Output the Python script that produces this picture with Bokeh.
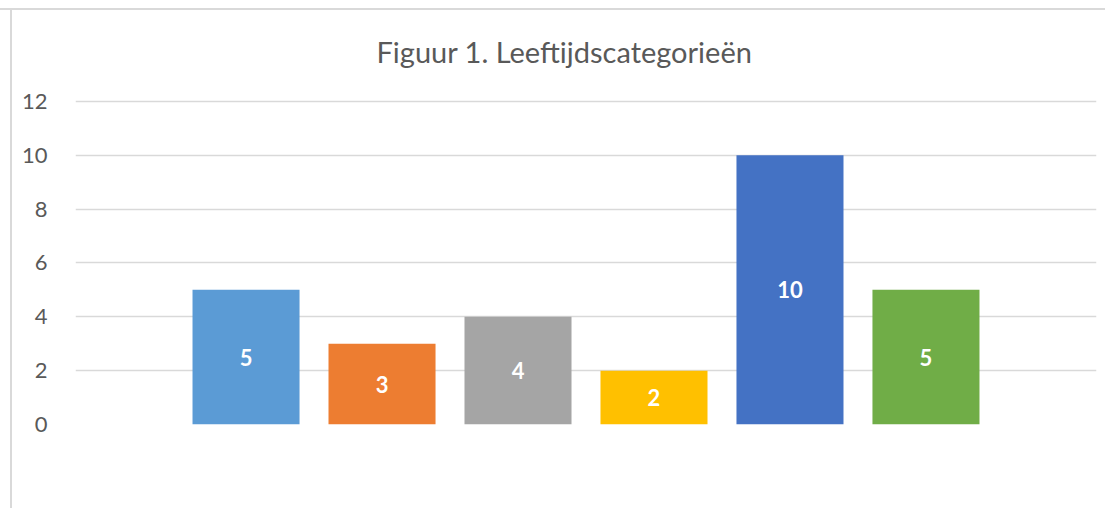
from bokeh.plotting import figure
from bokeh.models import Range1d, Legend, LegendItem, ColumnDataSource, Title
from bokeh.core.properties import value
from bokeh.embed import file_html
from bokeh.resources import INLINE

categories = ["<19", "19-25", "26-35", "36-45", "46-60", "60+"]
counts = [5, 3, 4, 2, 10, 5]
colors = ["#5B9BD5", "#ED7D31", "#A5A5A5", "#FFC000", "#4472C4", "#70AD47"]
y_ticks = [0, 2, 4, 6, 8, 10, 12]
title_text = "Figuur 1.  Leeftijdscategorieën"

FONT = "Lato"
TXT = "#595959"
EDGE = "#d9d9d9"

xs = list(range(len(categories)))
src = ColumnDataSource(dict(x=xs, top=counts, mid=[c / 2 for c in counts],
                            lab=[str(c) for c in counts], color=colors, cat=categories))

# chart-area frame lines (top and left edge) drawn as the element's CSS background
bg = (f"linear-gradient({EDGE},{EDGE}) 0 8px / 100% 2px no-repeat, "
      f"linear-gradient({EDGE},{EDGE}) 10px 8px / 2px 100% no-repeat, white")

p = figure(width=1105, height=500, frame_width=1021, frame_height=325,
           output_backend="svg", toolbar_location=None,
           x_range=Range1d(2.5 - 3.754, 2.5 + 3.754), y_range=Range1d(0, 12.07),
           min_border_left=75, min_border_right=9, min_border_top=99, min_border_bottom=76,
           outline_line_color=None, border_fill_color=None, background_fill_color=None,
           styles={"background": bg})

p.title = Title(text=title_text, align="left", offset=301, text_font=FONT,
                text_font_size="29px", text_font_style="normal", text_color=TXT,
                standoff=62)

r = p.vbar(x="x", top="top", width=0.787, bottom=0, fill_color="color",
           line_color=None, source=src)

p.text(x="x", y="mid", text="lab", source=src, text_color="white",
       text_font=value(FONT), text_font_style="bold", text_font_size="22px",
       text_align="center", text_baseline="middle")

p.xaxis.visible = False

p.yaxis.ticker = y_ticks
p.yaxis.axis_line_color = None
p.yaxis.major_tick_line_color = None
p.yaxis.minor_tick_line_color = None
p.yaxis.major_label_standoff = 22
p.yaxis.major_label_text_font = FONT
p.yaxis.major_label_text_font_size = "22px"
p.yaxis.major_label_text_color = TXT

p.xgrid.visible = False
p.ygrid.ticker = y_ticks
p.ygrid.grid_line_color = "#D9D9D9"
p.ygrid.grid_line_width = 1.5

items = [LegendItem(label=c, renderers=[r], index=i) for i, c in enumerate(categories)]
legend = Legend(items=items, orientation="horizontal", location="bottom_center",
                label_text_font=FONT, label_text_font_size="20px", label_text_color=TXT,
                glyph_width=12, glyph_height=12, label_standoff=5, spacing=20,
                border_line_color=None, background_fill_alpha=0, margin=14, padding=0,
                label_height=20)
p.add_layout(legend, "below")

open("out.html", "w").write(file_html(p, INLINE))
